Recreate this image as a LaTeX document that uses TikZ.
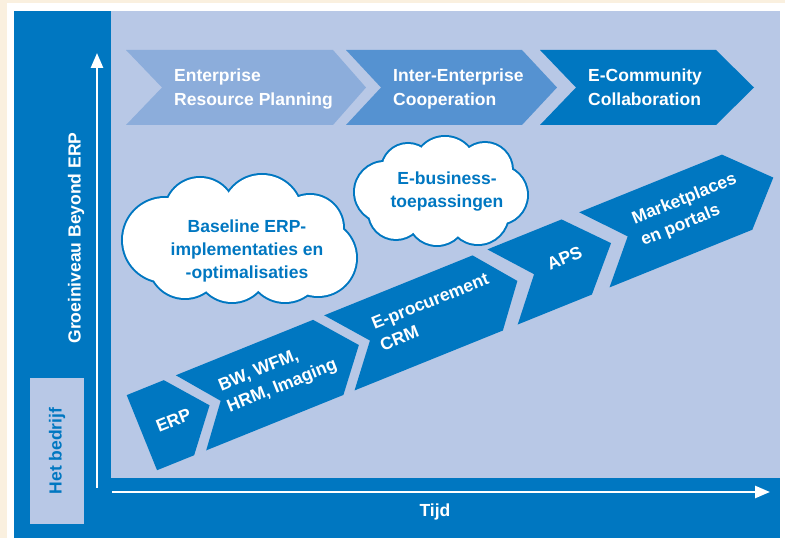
\documentclass[tikz,border=0pt]{standalone}
\usepackage{fontspec}
\setmainfont{Liberation Sans}
\usetikzlibrary{arrows.meta}
\definecolor{cream}{HTML}{FAF0DF}
\definecolor{dkblue}{HTML}{0077C1}
\definecolor{panel}{HTML}{B8C8E6}
\definecolor{stageone}{HTML}{8CADDB}
\definecolor{stagetwo}{HTML}{5592D1}
\begin{document}
\begin{tikzpicture}[x=1pt,y=1pt,
  txt/.style={font=\fontsize{17.5}{24}\selectfont\bfseries, inner sep=0pt},
  ctxt/.style={font=\fontsize{17.5}{23}\selectfont\bfseries, inner sep=0pt, text=dkblue, align=center},
  btxt/.style={font=\fontsize{17.5}{23}\selectfont\bfseries, inner sep=0pt, text=white, align=left, transform shape},
  axis/.style={white, line width=2.5pt, -{Triangle[length=15pt,width=12pt]}},
  puffline/.style={draw=dkblue, line width=4pt},
  pufffill/.style={fill=white}]
\useasboundingbox (0,0) rectangle (785,538);
% frame and background panel
\fill[cream] (0,0) rectangle (785,538);
\fill[white] (7,0) rectangle (785,535);
\fill[dkblue] (14,0) rectangle (780,527);
\fill[panel] (111,60) rectangle (780,527);

% stage chevrons along the top
\fill[stageone] (126,488) -- (333,488) -- (366,450.5) -- (333,413) -- (126,413) -- (162,450.5) -- cycle;
\fill[stagetwo] (346,488) -- (522,488) -- (557,450.5) -- (522,413) -- (346,413) -- (381,450.5) -- cycle;
\fill[dkblue] (540,488) -- (716,488) -- (754,450.5) -- (716,413) -- (540,413) -- (576,450.5) -- cycle;
\node[txt, text=white, align=left, anchor=west] (erpstage) at (174,449) {Enterprise\\Resource Planning};
\node[txt, text=white, align=left, anchor=west] (interstage) at (393,449) {Inter-Enterprise\\Cooperation};
\node[txt, text=white, align=left, anchor=west] (commstage) at (588,451) {E-Community\\Collaboration};

% clouds: union of puffs, outlined by stroking every puff and then filling them all
\foreach \cx/\cy/\cr in {165/298/42, 200/325/35, 262/323/40, 310/310/33, 318/280/38, 285/273/37, 232/272/36, 185/276/36,
                   385/346/30, 408/368/26, 445/370/31, 485/368/27, 498/343/29, 478/324/30, 437/322/29, 396/326/27}
  \path[puffline] (\cx,\cy) circle [radius=\cr];
\foreach \cx/\cy/\cr in {165/298/42, 200/325/35, 262/323/40, 310/310/33, 318/280/38, 285/273/37, 232/272/36, 185/276/36,
                   385/346/30, 408/368/26, 445/370/31, 485/368/27, 498/343/29, 478/324/30, 437/322/29, 396/326/27}
  \path[pufffill] (\cx,\cy) circle [radius=\cr];
\fill[white] (240,295) ellipse [x radius=80, y radius=40];
\fill[white] (441,347) ellipse [x radius=60, y radius=28];
\node[ctxt] (baselinetxt) at (247,287) {Baseline ERP-\\implementaties en\\-optimalisaties};
\node[ctxt] (ebiztxt) at (447,346) {E-business-\\toepassingen};

% rising band of applications
\begin{scope}[rotate=22]
  \fill[dkblue] (171,4) -- (211,4) -- (244,44.5) -- (211,85) -- (171,85) -- cycle;
  \fill[dkblue] (224,4) -- (372,4) -- (405,44.5) -- (372,85) -- (224,85) -- (256,44.5) -- cycle;
  \fill[dkblue] (384,4) -- (544,4) -- (576,44.5) -- (544,85) -- (384,85) -- (417,44.5) -- cycle;
  \fill[dkblue] (560,4) -- (640,4) -- (677,44.5) -- (640,85) -- (560,85) -- (594,44.5) -- cycle;
  \fill[dkblue] (659,4) -- (813,4) -- (852,44.5) -- (813,85) -- (659,85) -- (695,44.5) -- cycle;
  \node[btxt] (erp) at (205,44) {ERP};
  \node[btxt, anchor=west] (bw) at (260,46) {BW, WFM,\\HRM, Imaging};
  \node[btxt, anchor=west] (eproc) at (425,47) {E-procurement\\CRM};
  \node[btxt, anchor=base west] (aps) at (610,42) {APS};
  \node[btxt, anchor=west] (market) at (706,46) {Marketplaces\\en portals};
\end{scope}

% axes
\coordinate (yfoot) at (97,50);
\coordinate (ytip) at (97,485);
\coordinate (xfoot) at (112,46);
\coordinate (xtip) at (770,46);
\draw[axis] (yfoot) -- (ytip);
\draw[axis] (xfoot) -- (xtip);
\node[txt, text=white, rotate=90] (ylabel) at (76,300) {Groeiniveau Beyond ERP};
\node[txt, text=white] (xlabel) at (435,26) {Tijd};
\node[txt, text=dkblue, fill=panel, rotate=90, minimum width=146pt, minimum height=54pt] (firm) at (57,87) {Het bedrijf};
\end{tikzpicture}
\end{document}
